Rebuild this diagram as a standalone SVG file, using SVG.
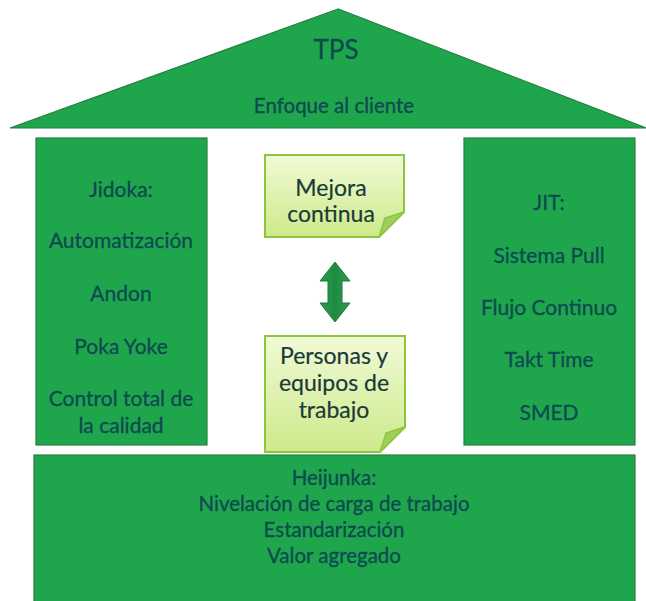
<svg xmlns="http://www.w3.org/2000/svg" width="646" height="601" viewBox="0 0 646 601">
<defs>
<linearGradient id="note" x1="0" y1="0" x2="0" y2="1">
<stop offset="0" stop-color="#f1fad6"/>
<stop offset="1" stop-color="#cdea8a"/>
</linearGradient>
<linearGradient id="arr" x1="0" y1="0" x2="1" y2="0">
<stop offset="0" stop-color="#2f9e4f"/>
<stop offset="0.5" stop-color="#1f8a40"/>
<stop offset="1" stop-color="#2f9e4f"/>
</linearGradient>
</defs>
<style>
.blk{fill:#1fa64d;stroke:#25803f;stroke-width:1.2}
.t{font-family:Lato,"Open Sans",sans-serif;fill:#0d4a4f;stroke:#0d4a4f;stroke-width:0.3;text-anchor:middle;font-size:21px}
.nt{font-family:Lato,"Open Sans",sans-serif;fill:#1a3a3a;stroke:#1a3a3a;stroke-width:0.2;text-anchor:middle;font-size:23px}
.note{fill:url(#note);stroke:#8cc63f;stroke-width:2}
.fold{fill:#9fcf5a;stroke:#8cc63f;stroke-width:1.5}
</style>
<rect width="646" height="601" fill="#ffffff"/>
<g id="roof">
<polygon class="blk" points="338,9 10,128 646,128"/>
<text class="t" x="336" y="59" style="font-size:26px">TPS</text>
<text class="t" x="334" y="113" style="font-size:20.5px">Enfoque al cliente</text>
</g>
<g id="jidoka">
<rect class="blk" x="36" y="138" width="171" height="307"/>
<text class="t" x="121" y="197">Jidoka:</text>
<text class="t" x="121" y="248">Automatización</text>
<text class="t" x="121" y="301">Andon</text>
<text class="t" x="121" y="354">Poka Yoke</text>
<text class="t" x="121" y="406">Control total de</text>
<text class="t" x="121" y="433">la calidad</text>
</g>
<g id="jit">
<rect class="blk" x="464" y="138" width="171" height="307"/>
<text class="t" x="549" y="210">JIT:</text>
<text class="t" x="549" y="263">Sistema Pull</text>
<text class="t" x="549" y="315">Flujo  Continuo</text>
<text class="t" x="549" y="367">Takt Time</text>
<text class="t" x="549" y="420">SMED</text>
</g>
<g id="mejora">
<path class="note" d="M265,155 H404 V212 L379,237 H265 Z"/>
<path class="fold" d="M379,237 L385,218 L404,212 Z"/>
<text class="nt" x="331" y="196">Mejora</text>
<text class="nt" x="331" y="222">continua</text>
</g>
<g id="personas">
<path class="note" d="M265,336 H405 V427 L380,452 H265 Z"/>
<path class="fold" d="M380,452 L386,433 L405,427 Z"/>
<text class="nt" x="334" y="364">Personas y</text>
<text class="nt" x="334" y="391">equipos de</text>
<text class="nt" x="334" y="418">trabajo</text>
</g>
<g id="connectors">
<path d="M335,262 L350,281 H342 V303 H350 L335,322 L320,303 H328 V281 H320 Z" fill="url(#arr)" stroke="#1d7a3a" stroke-width="1"/>
</g>
<g id="heijunka">
<rect class="blk" x="34" y="455" width="601" height="150"/>
<text class="t" x="334" y="485" style="font-size:20.5px">Heijunka:</text>
<text class="t" x="334" y="511" style="font-size:20.5px">Nivelación de carga de trabajo</text>
<text class="t" x="334" y="537" style="font-size:20.5px">Estandarización</text>
<text class="t" x="334" y="563" style="font-size:20.5px">Valor agregado</text>
</g>
</svg>
